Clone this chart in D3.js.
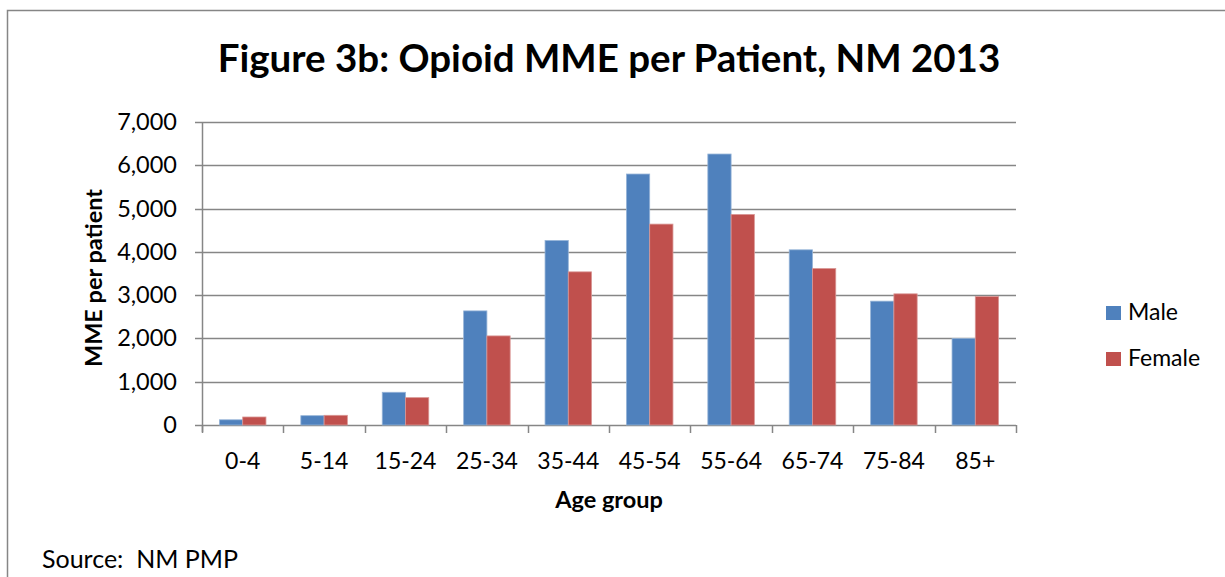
<!DOCTYPE html>
<html>
<head>
<meta charset="utf-8">
<script src="https://cdn.jsdelivr.net/npm/d3@7"></script>
<style>
  body { margin: 0; background: #fff; }
  svg { display: block; font-family: Lato, "Open Sans", sans-serif; }
</style>
</head>
<body>
<svg width="1225" height="577"></svg>
<script>
// age groups and MME per patient
const ageGroups = ["0-4", "5-14", "15-24", "25-34", "35-44", "45-54", "55-64", "65-74", "75-84", "85+"];
const maleValues = [120, 215, 756, 2636, 4262, 5798, 6260, 4047, 2861, 1996];
const femaleValues = [185, 224, 632, 2058, 3538, 4641, 4864, 3615, 3030, 2967];
const seriesNames = ["Male", "Female"];
const yTicks = [0, 1000, 2000, 3000, 4000, 5000, 6000, 7000];

const colors = d3.scaleOrdinal().domain(seriesNames).range(["#4F81BD", "#C0504D"]);

const svg = d3.select("svg");
const margin = { top: 122, left: 202, right: 1016, bottom: 425 };
const axisColor = "#868686";

// outer chart frame
svg.append("rect")
  .attr("x", 7.5).attr("y", 10.5)
  .attr("width", 1240).attr("height", 600)
  .attr("fill", "none")
  .attr("stroke", axisColor)
  .attr("stroke-width", 1.5);

const x = d3.scaleBand()
  .domain(ageGroups)
  .range([margin.left, margin.right])
  .paddingInner(0)
  .paddingOuter(0);

// gap width 150% -> bars take 2 / 3.5 of the band
const xSub = d3.scaleBand()
  .domain(seriesNames)
  .range([0, x.bandwidth()])
  .paddingInner(0)
  .paddingOuter(0.75);

const y = d3.scaleLinear()
  .domain([0, 7000])
  .range([margin.bottom, margin.top]);

// gridlines
svg.append("g")
  .selectAll("line")
  .data(yTicks)
  .enter().append("line")
  .attr("x1", margin.left - 7).attr("x2", margin.right)
  .attr("y1", d => Math.round(y(d)) + 0.5)
  .attr("y2", d => Math.round(y(d)) + 0.5)
  .attr("stroke", axisColor)
  .attr("stroke-width", 1.5);

// y tick labels
svg.append("g")
  .selectAll("text")
  .data(yTicks)
  .enter().append("text")
  .attr("x", 177)
  .attr("y", d => y(d) + 8)
  .attr("text-anchor", "end")
  .attr("font-size", 23.5)
  .attr("fill", "#000")
  .text(d => d3.format(",")(d));

// bars
const data = ageGroups.map((g, i) => ({ group: g, values: [
  { key: "Male", value: maleValues[i] },
  { key: "Female", value: femaleValues[i] }
] }));

const groups = svg.selectAll(".grp")
  .data(data)
  .enter().append("g")
  .attr("class", "grp")
  .attr("transform", d => `translate(${x(d.group)},0)`);

groups.selectAll("rect")
  .data(d => d.values)
  .enter().append("rect")
  .attr("x", d => xSub(d.key))
  .attr("y", d => y(d.value))
  .attr("width", xSub.bandwidth())
  .attr("height", d => y(0) - y(d.value))
  .attr("fill", d => colors(d.key))
  .attr("stroke", d => d.key === "Male" ? "#95B3D7" : "#D99694")
  .attr("stroke-width", 0.8);

// y axis line
svg.append("line")
  .attr("x1", margin.left + 0.5).attr("x2", margin.left + 0.5)
  .attr("y1", margin.top).attr("y2", margin.bottom + 7)
  .attr("stroke", axisColor).attr("stroke-width", 1.5);

// x axis ticks at category boundaries
svg.append("g")
  .selectAll("line")
  .data(ageGroups.map(g => x(g)).concat([margin.right]))
  .enter().append("line")
  .attr("x1", d => Math.round(d) + 0.5).attr("x2", d => Math.round(d) + 0.5)
  .attr("y1", margin.bottom).attr("y2", margin.bottom + 8)
  .attr("stroke", axisColor).attr("stroke-width", 1.5);

svg.append("g")
  .selectAll("text")
  .data(ageGroups)
  .enter().append("text")
  .attr("x", d => x(d) + x.bandwidth() / 2)
  .attr("y", 469)
  .attr("text-anchor", "middle")
  .attr("font-size", 23)
  .attr("fill", "#000")
  .text(d => d);

// titles
svg.append("text")
  .attr("x", 609).attr("y", 72)
  .attr("text-anchor", "middle")
  .attr("font-size", 38.5)
  .attr("font-weight", "bold")
  .text("Figure 3b: Opioid MME per Patient, NM 2013");

svg.append("text")
  .attr("x", 609).attr("y", 508)
  .attr("text-anchor", "middle")
  .attr("font-size", 23.5)
  .attr("font-weight", "bold")
  .text("Age group");

svg.append("text")
  .attr("transform", "translate(102,278) rotate(-90)")
  .attr("text-anchor", "middle")
  .attr("font-size", 23.5)
  .attr("font-weight", "bold")
  .text("MME per patient");

// legend
const legend = svg.selectAll(".legend")
  .data(seriesNames)
  .enter().append("g")
  .attr("class", "legend")
  .attr("transform", (d, i) => `translate(1106,${306 + i * 46})`);

legend.append("rect")
  .attr("width", 15).attr("height", 14)
  .attr("fill", d => colors(d));

legend.append("text")
  .attr("x", 22).attr("y", 14)
  .attr("font-size", 23)
  .text(d => d);

svg.append("text")
  .attr("x", 42).attr("y", 568)
  .attr("font-size", 25)
  .style("white-space", "pre")
  .text("Source:  NM PMP");
</script>
</body>
</html>
